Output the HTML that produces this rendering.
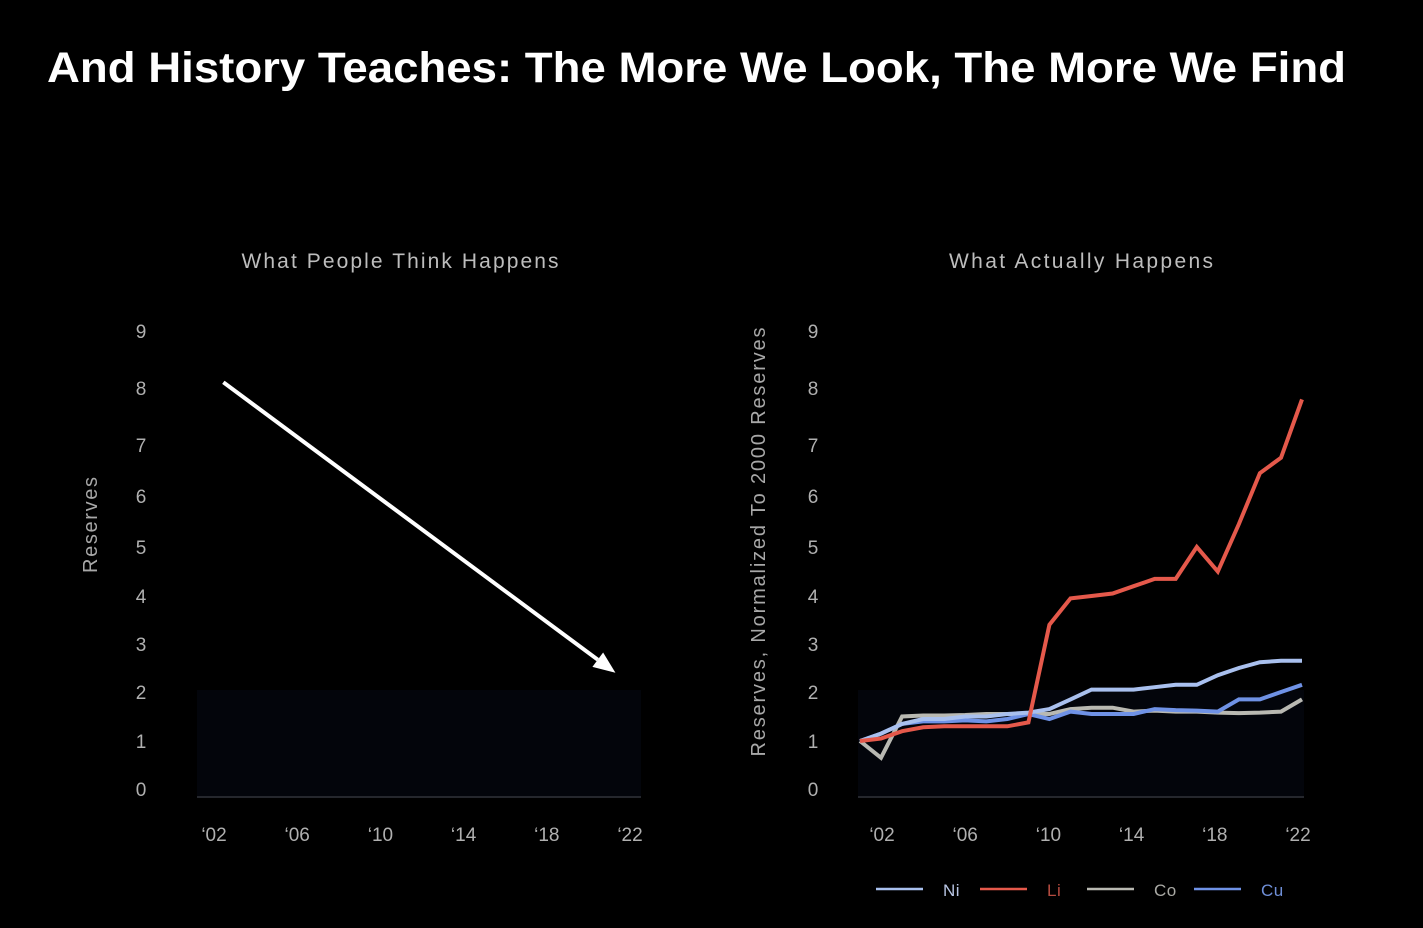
<!DOCTYPE html>
<html><head><meta charset="utf-8"><style>
html,body{margin:0;padding:0;background:#000;}
svg{display:block;font-family:"Liberation Sans",sans-serif;}
</style></head><body>
<svg id="chart" width="1423" height="928" viewBox="0 0 1423 928">
<rect width="1423" height="928" fill="#000"/>
<text x="47" y="82" font-size="43" font-weight="bold" fill="#fff" textLength="1299" lengthAdjust="spacingAndGlyphs">And History Teaches: The More We Look, The More We Find</text>
<g id="left"></g>
<g id="right"></g>
</svg>
<script>
const yTicks=[0,1,2,3,4,5,6,7,8,9];
const xTickLabels=["‘02","‘06","‘10","‘14","‘18","‘22"];
const xTickYears=[2002,2006,2010,2014,2018,2022];
const years=[2001,2002,2003,2004,2005,2006,2007,2008,2009,2010,2011,2012,2013,2014,2015,2016,2017,2018,2019,2020,2021,2022];
const niValues=[1.0,1.15,1.35,1.45,1.45,1.5,1.5,1.55,1.58,1.65,1.85,2.05,2.05,2.05,2.1,2.15,2.15,2.35,2.5,2.62,2.65,2.65];
const liValues=[1.0,1.05,1.2,1.28,1.3,1.3,1.3,1.3,1.38,3.4,3.95,4.0,4.05,4.2,4.35,4.35,5.0,4.5,5.45,6.45,6.75,7.8];
const coValues=[1.0,0.7,1.5,1.52,1.52,1.53,1.55,1.55,1.55,1.55,1.65,1.68,1.68,1.6,1.62,1.6,1.6,1.58,1.57,1.58,1.6,1.85];
const cuValues=[1.0,1.15,1.35,1.4,1.4,1.42,1.4,1.45,1.55,1.45,1.6,1.55,1.55,1.55,1.65,1.63,1.62,1.6,1.85,1.85,2.0,2.15];
const seriesNames=["Ni","Li","Co","Cu"];
const arrowFrom=[2002.45,8.1];
const arrowTo=[2021.3,2.4];

const NS="http://www.w3.org/2000/svg";
const tickPix=[789,741,692,644,596,547,496,445,388,331];
function yScale(v){
  if(v<=0)return 797+(789-797)*v;
  const i=Math.min(Math.floor(v),8);const f=v-i;
  const base=i===0?797:tickPix[i];
  const next=tickPix[i+1];
  return base+(next-base)*f;
}
function labelY(t){return t===0?789:yScale(t);}
function mk(parent,tag,attrs,text){const e=document.createElementNS(NS,tag);for(const k in attrs)e.setAttribute(k,attrs[k]);if(text!==undefined)e.textContent=text;parent.appendChild(e);return e;}
const colors={Ni:"#a9c0ee",Li:"#e5594b",Co:"#b9b9b2",Cu:"#6f92e6"};
const textColors={Ni:"#b9c6e4",Li:"#b54b40",Co:"#a9a9a4",Cu:"#6f8fd8"};

function panel(g,x0,x1,xTickFirst,xTickLast,yLabelX,title,titleX,titleLen,ylabel,ylabelX,ylabelY,ylabelLen){
  const xs=y=>xTickFirst+(xTickLast-xTickFirst)*(y-2002)/20;
  const fill=mk(g,"rect",{x:x0,y:690,width:x1-x0,height:107,fill:"#03050b"});
  
  
  const base=mk(g,"line",{x1:x0,x2:x1,y1:797,y2:797,stroke:"#25272d","stroke-width":2});
  
  
  yTicks.forEach(t=>{
    const tx=mk(g,"text",{x:yLabelX,y:labelY(t)+7,"font-size":19,fill:"#b0b0b0","text-anchor":"middle"},String(t));
    
    
  });
  xTickLabels.forEach((l,i)=>{
    const tx=mk(g,"text",{x:xs(xTickYears[i]),y:841,"font-size":19,fill:"#b0b0b0","text-anchor":"middle"},l);
    
    
  });
  const tt=mk(g,"text",{x:titleX-titleLen/2,y:268,"font-size":21,fill:"#bdbdbd",textLength:titleLen,lengthAdjust:"spacing"},title);
  
  
  const yl=mk(g,"text",{x:-ylabelLen/2,y:0,"font-size":20,fill:"#a8a8a8",textLength:ylabelLen,lengthAdjust:"spacing",transform:`translate(${ylabelX},${ylabelY}) rotate(-90)`},ylabel);
  
  
  return xs;
}
const L=document.getElementById("left");
const xsL=panel(L,197,641,214,630,141,"What People Think Happens",400,317,"Reserves",97,525,96);
const ax1=xsL(arrowFrom[0]),ay1=yScale(arrowFrom[1]),ax2=xsL(arrowTo[0]),ay2=yScale(arrowTo[1]);
const ang=Math.atan2(ay2-ay1,ax2-ax1);
const hl=22,hw=9;
const bx=ax2-hl*Math.cos(ang),by=ay2-hl*Math.sin(ang);
const arrowLine=mk(L,"line",{x1:ax1,y1:ay1,x2:bx,y2:by,stroke:"#fff","stroke-width":4});


const px=-Math.sin(ang),py=Math.cos(ang);
const head=mk(L,"polygon",{points:`${ax2},${ay2} ${bx+px*hw},${by+py*hw} ${bx-px*hw},${by-py*hw}`,fill:"#fff"});



const R=document.getElementById("right");
const xsR=panel(R,858,1304,882,1298,813,"What Actually Happens",1081,264,"Reserves, Normalized To 2000 Reserves",765,542,429);
const xr=y=>860+(1302-860)*(y-2001)/21;
const data={Ni:niValues,Li:liValues,Co:coValues,Cu:cuValues};
["Co","Cu","Ni","Li"].forEach(n=>{
  const pts=years.map((y,i)=>xr(y).toFixed(1)+","+yScale(data[n][i]).toFixed(1)).join(" ");
  const pl=mk(R,"polyline",{points:pts,fill:"none",stroke:colors[n],"stroke-width":4,"stroke-linejoin":"miter"});
  
  
});
const legX=[876,980,1087,1194];
seriesNames.forEach((n,i)=>{
  const lg=mk(R,"g",{});
  
  
  mk(lg,"line",{x1:legX[i],x2:legX[i]+47,y1:889,y2:889,stroke:colors[n],"stroke-width":2.5});
  mk(lg,"text",{x:legX[i]+67,y:896,"font-size":17,fill:textColors[n],"letter-spacing":"0.5"},n);
});
</script>
</body></html>
